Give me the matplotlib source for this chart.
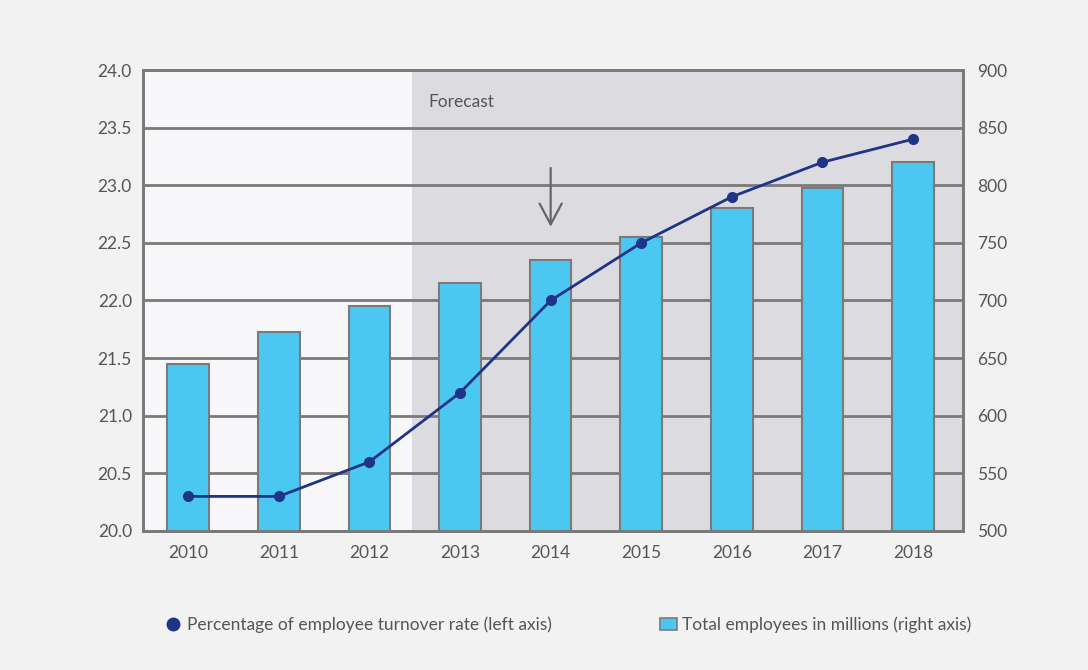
""" Turnover rate vs total employees, with forecast shading """

import matplotlib
matplotlib.use("Agg")
from matplotlib import pyplot as plt
from matplotlib.lines import Line2D
from matplotlib.patches import Patch

years = ["2010", "2011", "2012", "2013", "2014", "2015", "2016", "2017", "2018"]
turnover = [20.3, 20.3, 20.6, 21.2, 22.0, 22.5, 22.9, 23.2, 23.4]
employees = [645, 673, 695, 715, 735, 755, 780, 798, 820]

plt.rcParams['font.family'] = ['Lato', 'DejaVu Sans']
text_col = '#555555'
grid_col = '#7a7a7a'
bar_col = '#4bc8f2'
line_col = '#1f3388'

fig = plt.figure(figsize=(10.88, 6.70), dpi=100)
fig.patch.set_facecolor('#f2f2f2')

ax = fig.add_axes([0.1314, 0.2075, 0.7536, 0.688])
ax2 = ax.twinx()

# right axis holds bars, grid and background, left axis line on top
ax.set_zorder(ax2.get_zorder() + 1)
ax.patch.set_visible(False)
ax2.patch.set_visible(True)
ax2.patch.set_facecolor('#f7f7f9')

x = list(range(len(years)))
ax2.axvspan(2.47, 8.6, color='#dcdce0', zorder=0, lw=0)
ax2.bar(x, employees, width=0.46, color=bar_col, edgecolor=grid_col,
        linewidth=1.5, zorder=2)
ax2.set_ylim(500, 900)
ax2.set_yticks(range(500, 901, 50))
ax2.set_axisbelow(True)
ax2.yaxis.grid(True, color=grid_col, linewidth=2)

ax.plot(x, turnover, color=line_col, linewidth=2, marker='o',
        markersize=7, zorder=5)
ax.set_ylim(20, 24)
ax.set_yticks([20 + 0.5 * i for i in range(9)])
ax.set_yticklabels([f"{20 + 0.5 * i:.1f}" for i in range(9)])
ax.set_xlim(-0.5, 8.55)
ax.set_xticks(x)
ax.set_xticklabels(years)

for a in (ax, ax2):
    a.tick_params(length=0, labelsize=12.5, colors=text_col)
    for s in a.spines.values():
        s.set_color(grid_col)
        s.set_linewidth(2)
ax.tick_params(axis='y', pad=8)
ax.tick_params(axis='x', pad=10)
ax2.tick_params(axis='y', pad=10)

ax.text(2.65, 23.72, "Forecast", color=text_col, fontsize=12.5,
        va='center', ha='left')
ax.annotate("", xy=(4, 22.64), xytext=(4, 23.15),
            arrowprops=dict(arrowstyle='->,head_width=0.8,head_length=1.5',
                            color='#666666', lw=1.6, shrinkA=0, shrinkB=0))

handles = [
    Line2D([], [], color=line_col, marker='o', linestyle='none', markersize=9),
    Patch(facecolor=bar_col, edgecolor=grid_col, linewidth=1.2),
]
labels = ["Percentage of employee turnover rate (left axis)",
          "Total employees in millions (right axis)"]
leg = fig.legend(handles, labels, loc='center', bbox_to_anchor=(0.522, 0.067),
                 ncol=2, frameon=False, fontsize=12.5, columnspacing=6.2,
                 handletextpad=0.3, handlelength=1.0)
for t in leg.get_texts():
    t.set_color(text_col)

fig.savefig("out.png", dpi=100, facecolor=fig.get_facecolor())
